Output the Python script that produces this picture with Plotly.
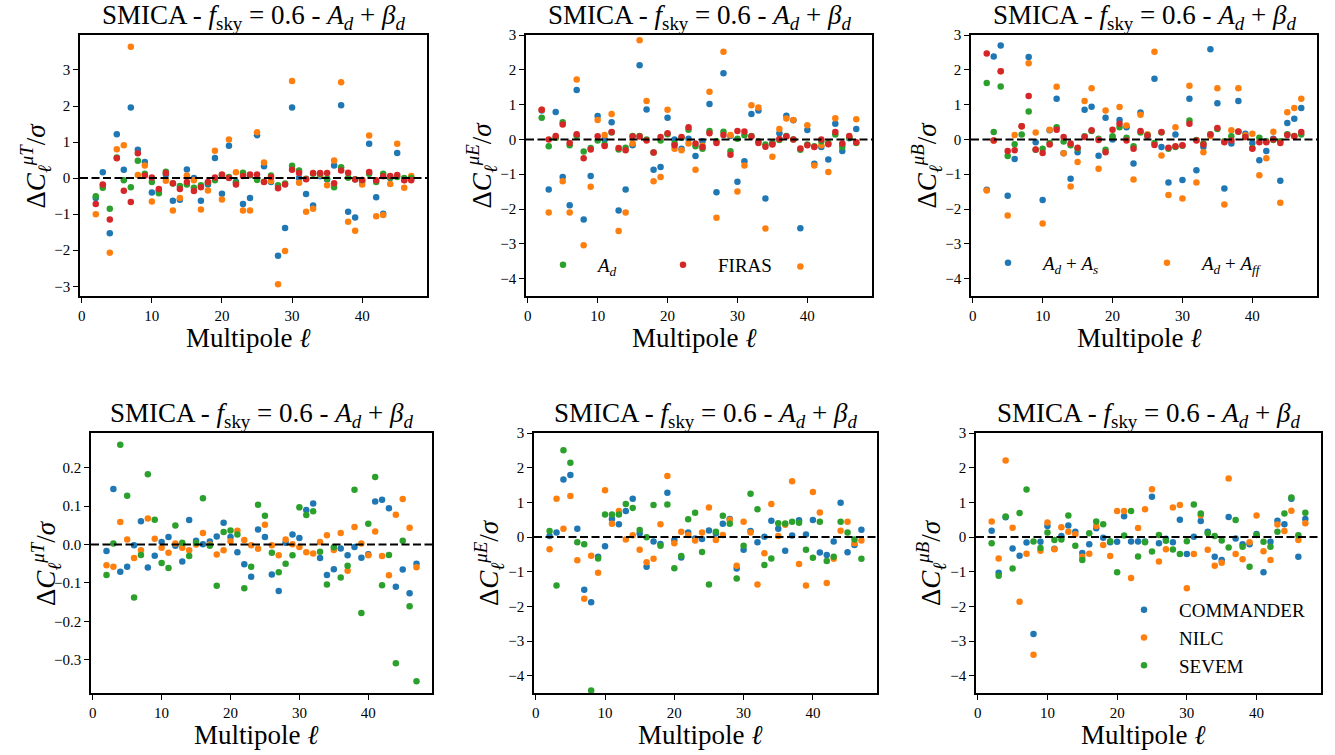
import plotly.graph_objects as go

# Multipoles
ell = list(range(2, 48))

BLUE, ORANGE, GREEN, RED = "#1f77b4", "#ff7f0e", "#2ca02c", "#d62728"

# ---- Top row: foreground models (A_d+A_s, A_d+A_ff, A_d, FIRAS) ----
muT_As = [-0.55, 0.16, -1.53, 1.22, 0.23, 1.96, 0.79, 0.45, -0.40, -0.35, 0.10, -0.63, -0.60, 0.24, 0.00, -0.63,
          -0.18, 0.56, -0.43, 0.90, -0.10, -0.72, -0.55, 1.19, 0.33, -0.11, -2.15, -1.38, 1.96, 0.00, -0.44, -0.76,
          0.05, -0.04, 0.35, 2.02, -0.93, -1.09, -0.10, 0.95, -0.53, -0.99, 0.00, 0.70, -0.05, 0.00]
muT_Aff = [-1.00, -0.20, -2.07, 0.80, 0.91, 3.64, 0.09, 0.35, -0.65, -0.38, -0.07, -0.90, -0.55, 0.07, -0.06, -0.87,
           -0.34, 0.76, -0.59, 1.07, 0.16, -0.90, -0.90, 1.27, 0.43, -0.08, -2.94, -2.02, 2.69, -0.13, -0.93, -0.85,
           0.10, -0.20, 0.49, 2.66, -1.21, -1.46, -0.18, 1.18, -1.06, -1.02, -0.16, 0.95, -0.27, 0.06]
muT_Ad = [-0.50, -0.27, -0.85, 0.57, -0.06, -0.25, 0.48, 0.12, -0.11, -0.42, 0.18, -0.15, -0.22, -0.18, -0.27, -0.20,
          -0.12, -0.06, 0.08, 0.03, -0.13, 0.15, 0.08, -0.05, -0.10, 0.07, -0.20, -0.15, 0.34, 0.21, -0.02, 0.12,
          0.12, -0.02, -0.25, 0.30, 0.01, -0.03, -0.05, 0.12, -0.11, 0.12, 0.02, 0.03, 0.00, 0.00]
muT_FIRAS = [-0.72, -0.18, -1.15, 0.55, -0.35, -0.66, 0.69, 0.07, 0.02, -0.30, 0.14, -0.14, -0.30, -0.11, -0.36, -0.25,
             -0.11, 0.02, 0.10, 0.00, -0.18, 0.06, 0.10, 0.10, -0.11, 0.03, -0.28, -0.18, 0.23, 0.14, -0.03, 0.14,
             0.14, 0.14, -0.14, 0.21, 0.15, -0.04, -0.05, 0.17, -0.06, 0.05, 0.06, 0.09, -0.06, -0.06]

muE_As = [0.83, -1.44, 0.79, -1.08, -1.89, 1.42, -2.30, -1.05, 0.67, 0.00, 0.49, -2.04, -1.44, -0.17, 2.13, 0.86,
          -0.87, -0.79, 0.62, 0.00, -0.27, 0.02, -0.48, -0.05, 1.02, -1.52, 1.90, 0.10, -1.22, -0.63, 0.73, 0.83,
          -1.70, -0.10, 0.18, 0.68, 0.55, -2.55, 0.27, -0.70, -0.22, -0.58, 0.45, -0.33, 0.03, 0.30]
muE_Aff = [0.85, -2.10, 0.05, -1.20, -2.10, 1.72, -3.04, -1.36, 0.56, 0.13, 0.73, -2.63, -2.10, -0.12, 2.85, 1.10,
           -1.20, -1.08, 0.85, -0.27, -0.31, -0.12, -0.87, -0.18, 1.37, -2.25, 2.52, 0.13, -1.50, -0.75, 0.98, 0.92,
           -2.56, -0.50, 0.30, 0.60, 0.56, -3.65, 0.41, -0.75, -0.17, -0.94, 0.61, -0.15, 0.07, 0.58]
muE_Ad = [0.62, -0.20, 0.05, 0.49, -0.17, 0.10, -0.35, -0.25, -0.03, -0.15, 0.20, -0.29, -0.24, 0.10, 0.10, 0.00,
          -0.38, -0.03, 0.15, -0.12, 0.05, 0.28, -0.20, -0.27, 0.24, -0.05, 0.22, -0.34, 0.02, 0.12, 0.10, -0.05,
          -0.15, -0.12, -0.02, 0.10, 0.00, -0.30, -0.15, -0.20, -0.05, -0.10, 0.14, -0.22, 0.05, -0.10]
muE_FIRAS = [0.85, 0.00, 0.10, 0.43, -0.10, 0.15, -0.54, -0.29, 0.09, -0.19, 0.21, -0.25, -0.31, 0.08, 0.08, -0.03,
             -0.38, 0.07, 0.18, -0.17, 0.07, 0.35, -0.12, -0.22, 0.18, -0.10, 0.13, -0.44, 0.24, 0.23, 0.08, -0.10,
             -0.21, -0.15, 0.01, 0.08, 0.00, -0.26, -0.17, -0.22, 0.00, -0.14, 0.21, -0.12, 0.10, -0.08]

muB_As = [-1.45, 2.38, 2.70, -1.62, -0.56, 0.38, 2.37, -0.08, -1.74, 0.26, 1.17, -0.40, -1.13, -0.37, 0.85, 0.94,
          -0.47, 0.62, 0.00, 0.56, 0.35, -0.69, 0.77, 0.10, 1.74, -0.22, -1.24, 0.14, -1.17, 1.17, -0.89, -0.22,
          2.59, 1.04, -1.41, -0.12, 1.10, 0.16, -0.10, -0.60, -0.33, 0.02, -1.19, 0.47, 0.59, 0.90]
muB_Aff = [-1.47, -0.03, 1.96, -2.19, 0.13, 0.38, 2.19, 0.20, -2.42, 0.28, 1.51, -0.40, -1.35, -0.65, 1.10, 1.47,
           -0.84, 0.83, 0.07, 0.93, 0.40, -1.15, 0.71, 0.15, 2.52, -0.46, -1.60, 0.35, -1.70, 1.54, -1.24, -0.37,
           0.10, 1.47, -1.87, 0.26, 1.47, 0.12, 0.16, -1.03, -0.54, 0.22, -1.82, 0.78, 0.90, 1.17]
muB_Ad = [1.62, 0.21, 1.52, -0.48, -0.14, 0.14, 0.80, -0.30, -0.27, -0.10, 0.35, -0.06, -0.17, -0.27, 0.09, 0.24,
          0.02, -0.30, 0.09, 0.35, 0.05, -0.20, 0.20, 0.12, -0.10, 0.20, -0.27, -0.22, -0.18, 0.54, -0.02, -0.12,
          0.15, 0.30, -0.05, 0.09, 0.22, 0.07, -0.25, 0.05, -0.05, -0.02, -0.05, 0.15, 0.10, 0.14]
muB_FIRAS = [2.47, -0.03, 1.96, -0.33, -0.31, 0.38, 1.25, -0.29, -0.39, -0.15, 0.28, 0.07, -0.12, -0.24, 0.07, 0.26,
             -0.02, -0.37, 0.28, 0.45, -0.03, -0.27, 0.24, 0.11, -0.16, 0.21, -0.24, -0.20, -0.17, 0.45, -0.03, -0.15,
             0.14, 0.33, -0.08, -0.03, 0.23, 0.07, -0.27, -0.08, -0.08, 0.00, -0.10, 0.13, 0.09, 0.21]

# ---- Bottom row: component-separation pipelines (COMMANDER, NILC, SEVEM) ----
pT_commander = [-0.017, 0.145, -0.071, -0.058, -0.002, 0.061, -0.060, -0.029, 0.007, 0.020, -0.003, -0.044, 0.064,
                0.010, 0.001, 0.008, 0.021, 0.057, 0.020, -0.020, -0.051, -0.084, 0.039, 0.020, -0.078, -0.121,
                0.005, 0.026, 0.017, 0.090, 0.107, -0.035, -0.079, -0.064, -0.010, -0.028, -0.006, -0.034, -0.025,
                0.112, 0.117, 0.095, -0.110, -0.065, -0.127, -0.050]
pT_nilc = [-0.054, -0.058, 0.059, 0.013, -0.035, -0.015, 0.068, 0.015, -0.008, -0.021, 0.003, -0.008, -0.015, 0.000,
           0.030, 0.000, -0.026, -0.015, 0.009, 0.036, 0.012, -0.002, -0.011, 0.052, -0.002, -0.028, 0.013, 0.001,
           -0.006, -0.020, -0.023, 0.007, 0.024, -0.014, 0.030, -0.068, 0.046, 0.003, -0.028, 0.034, -0.030, -0.080,
           0.078, 0.119, 0.044, -0.059]
pT_sevem = [-0.079, 0.003, 0.260, 0.127, -0.138, -0.027, 0.183, 0.065, -0.048, -0.061, 0.050, 0.005, -0.030, 0.005,
            0.121, -0.003, -0.107, 0.033, 0.037, 0.026, -0.114, -0.058, 0.104, 0.075, -0.021, -0.072, -0.050, -0.028,
            0.097, 0.077, 0.087, -0.019, -0.104, -0.007, -0.086, -0.055, 0.143, -0.178, 0.054, 0.176, -0.106,
            -0.027, -0.309, 0.010, -0.161, -0.356]

pE_commander = [0.03, 0.13, 1.66, 1.79, 0.24, -1.52, -1.88, -0.57, -0.27, 0.52, 0.37, 0.75, 1.10, 0.10, -0.86, -0.13,
                -0.20, 1.28, -0.09, -0.59, 0.13, -0.04, -0.06, 0.19, 0.10, 0.38, 0.52, -0.91, -0.37, 0.17, -0.15,
                0.01, 0.47, 0.24, -0.40, 0.04, 0.48, 0.07, 0.49, -0.45, -0.52, -0.13, 0.99, -0.44, -0.23, 0.21]
pE_nilc = [-0.35, 1.10, 0.24, 1.18, -0.67, -1.78, -0.54, -1.03, 1.35, 0.38, 0.75, -0.07, 0.05, -0.37, -0.73, -0.63,
           0.37, 1.76, -0.18, 0.15, 0.06, -0.10, 0.13, 0.85, -0.09, 0.06, 0.50, -0.83, 0.44, 0.13, -1.37, -0.47,
           0.95, 0.03, 0.35, 1.61, -0.78, -1.40, 1.30, 0.71, -1.33, -0.63, 0.18, 0.44, -0.18, -0.10]
pE_sevem = [0.17, -1.40, 2.50, 2.14, -0.15, -0.21, -4.43, -0.62, 0.65, 0.65, 0.65, 0.95, 0.84, 0.20, -0.01, 0.92,
            -0.25, 0.94, -0.90, -0.55, 0.51, 0.70, -0.43, -1.37, 0.15, 0.61, 0.38, -1.20, -0.25, 1.25, 0.80, -0.81,
            -0.62, 0.40, 0.39, 0.44, 0.41, -0.37, -0.60, 0.44, -0.69, -0.57, 0.44, 0.13, -0.07, -0.63]

pB_commander = [0.18, -1.03, 0.57, -0.33, -0.54, -0.16, -2.80, -0.14, 0.32, -0.34, 0.03, 0.33, 0.15, -0.46, -0.21,
                0.25, -0.02, -0.15, -0.14, 0.60, -0.13, -0.13, -0.13, 1.16, -0.18, -0.05, -0.15, 0.50, -0.49, 0.01,
                0.46, 0.15, -0.57, -0.66, 0.58, -0.04, -0.21, -0.21, 0.09, -1.02, -0.14, 0.47, 0.37, 1.10, -0.57, 0.52]
pB_nilc = [0.45, -0.62, 2.21, 0.27, -1.87, -0.48, -3.40, -0.40, 0.42, -0.35, 0.28, 0.15, 0.08, -0.57, -0.48, 0.32,
           -0.23, -0.55, 0.75, 0.75, -1.18, 0.26, 0.80, 1.38, -0.71, -0.35, 0.85, 0.92, -1.48, -0.49, 0.63, -0.37,
           -0.83, -0.74, 1.69, -0.49, -0.64, -0.15, 0.62, -0.41, -0.66, 0.36, 0.17, 0.76, -0.09, 0.40]
pB_sevem = [-0.18, -1.12, 0.59, -0.91, 0.69, 1.37, -0.13, -0.32, 0.13, -0.09, -0.07, 0.62, -0.25, -0.66, 0.11, 0.45,
            0.37, -0.12, -1.02, 0.04, 0.75, -0.56, -0.15, -0.42, 0.06, -0.11, -0.36, -0.49, -0.12, 0.94, 0.68, 0.11,
            0.03, -0.10, -0.30, 0.49, -0.28, -0.86, 0.06, -0.14, -0.28, 0.15, 0.68, 1.14, 0.05, 0.70]

# ---- Layout helpers ----
W, H = 1335, 755
SERIF = "Liberation Serif"
TITLE = "SMICA - <i>f</i><sub>sky</sub> = 0.6 - <i>A<sub>d</sub></i> + <i>β<sub>d</sub></i>"


def ylabel(comp):
    return "Δ<i>C</i><sub><i>ℓ</i></sub><sup><i>μ" + comp + "</i></sup>/<i>σ</i>"


def padded(values, frac=0.05):
    lo, hi = min(values), max(values)
    pad = frac * (hi - lo)
    return [lo - pad, hi + pad]


# pixel boxes of each panel: (left, right, top, bottom)
boxes = [
    (80, 427, 35, 296), (526, 872, 35, 296), (971, 1317, 35, 296),
    (91, 432, 433, 693), (534, 877, 433, 693), (976, 1321, 433, 693),
]

panels = [
    dict(series=[(muT_As, BLUE, "<i>A<sub>d</sub></i> + <i>A<sub>s</sub></i>", None),
                 (muT_Aff, ORANGE, "<i>A<sub>d</sub></i> + <i>A<sub>ff</sub></i>", None),
                 (muT_Ad, GREEN, "<i>A<sub>d</sub></i>", None),
                 (muT_FIRAS, RED, "FIRAS", None)],
         comp="T", yrange=None, dtick=1, fmt=None),
    dict(series=[(muE_As, BLUE, "<i>A<sub>d</sub></i> + <i>A<sub>s</sub></i>", None),
                 (muE_Aff, ORANGE, "<i>A<sub>d</sub></i> + <i>A<sub>ff</sub></i>", None),
                 (muE_Ad, GREEN, "<i>A<sub>d</sub></i>", "legend"),
                 (muE_FIRAS, RED, "FIRAS", "legend4")],
         comp="E", yrange=[-4.5, 3], dtick=1, fmt=None),
    dict(series=[(muB_As, BLUE, "<i>A<sub>d</sub></i> + <i>A<sub>s</sub></i>", "legend2"),
                 (muB_Aff, ORANGE, "<i>A<sub>d</sub></i> + <i>A<sub>ff</sub></i>", "legend2"),
                 (muB_Ad, GREEN, "<i>A<sub>d</sub></i>", None),
                 (muB_FIRAS, RED, "FIRAS", None)],
         comp="B", yrange=[-4.5, 3], dtick=1, fmt=None),
    dict(series=[(pT_commander, BLUE, "COMMANDER", None),
                 (pT_nilc, ORANGE, "NILC", None),
                 (pT_sevem, GREEN, "SEVEM", None)],
         comp="T", yrange=None, dtick=0.1, fmt=".1f"),
    dict(series=[(pE_commander, BLUE, "COMMANDER", None),
                 (pE_nilc, ORANGE, "NILC", None),
                 (pE_sevem, GREEN, "SEVEM", None)],
         comp="E", yrange=[-4.5, 3], dtick=1, fmt=None),
    dict(series=[(pB_commander, BLUE, "COMMANDER", "legend3"),
                 (pB_nilc, ORANGE, "NILC", "legend3"),
                 (pB_sevem, GREEN, "SEVEM", "legend3")],
         comp="B", yrange=[-4.5, 3], dtick=1, fmt=None),
]

fig = go.Figure()
layout = dict(
    width=W, height=H, margin=dict(l=0, r=0, t=0, b=0, autoexpand=False),
    paper_bgcolor="white", plot_bgcolor="white",
    annotations=[], shapes=[],
)

xr = padded(ell)
tick_font = dict(family=SERIF, size=15, color="black")

for i, (panel, box) in enumerate(zip(panels, boxes)):
    n = i + 1
    suffix = "" if n == 1 else str(n)
    xa, ya = "x" + suffix, "y" + suffix
    xkey, ykey = "xaxis" + suffix, "yaxis" + suffix
    left, right, top, bottom = box
    all_y = [v for s in panel["series"] for v in s[0]]
    yr = panel["yrange"] or padded(all_y)

    for values, color, name, leg in panel["series"]:
        fig.add_trace(go.Scatter(
            x=ell, y=values, mode="markers", name=name,
            marker=dict(color=color, size=6.5, line=dict(width=0)),
            xaxis=xa, yaxis=ya, showlegend=leg is not None,
            legend=leg if leg else "legend",
        ))

    axis_common = dict(showline=True, linecolor="black", linewidth=1.5, mirror=True,
                       ticks="outside", ticklen=5, tickwidth=1.4, tickcolor="black",
                       showgrid=False, zeroline=False, tickfont=tick_font)
    layout[xkey] = dict(domain=[left / W, right / W], anchor=ya, range=xr,
                        tickmode="linear", tick0=0, dtick=10, **axis_common)
    ydict = dict(domain=[1 - bottom / H, 1 - top / H], anchor=xa, range=yr,
                 tickmode="linear", tick0=0, dtick=panel["dtick"], **axis_common)
    if panel["fmt"]:
        ydict["tickformat"] = panel["fmt"]
    layout[ykey] = ydict

    # dashed zero reference line
    layout["shapes"].append(dict(type="line", xref=xa + " domain", yref=ya, x0=0, x1=1, y0=0, y1=0,
                                 line=dict(color="black", width=2, dash="8px,3.5px")))

    cx = (left + right) / 2
    ty = 17 if n <= 3 else 415
    layout["annotations"].append(dict(text=TITLE, x=cx / W, y=1 - ty / H, xref="paper", yref="paper",
                                      showarrow=False, xanchor="center", yanchor="middle",
                                      font=dict(family=SERIF, size=27, color="black")))
    lx = 338 if n <= 3 else 735
    layout["annotations"].append(dict(text="Multipole <i>ℓ</i>", x=(cx - 5) / W, y=1 - lx / H,
                                      xref="paper", yref="paper",
                                      showarrow=False, xanchor="center", yanchor="middle",
                                      font=dict(family=SERIF, size=27, color="black")))
    ycx = left - 45
    ycy = (top + bottom) / 2
    layout["annotations"].append(dict(text=ylabel(panel["comp"]), x=ycx / W, y=1 - ycy / H,
                                      xref="paper", yref="paper", showarrow=False, textangle=-90,
                                      xanchor="center", yanchor="middle",
                                      font=dict(family=SERIF, size=27, color="black")))

leg_font = dict(family=SERIF, size=19, color="black")
leg_common = dict(xanchor="left", yanchor="middle", bgcolor="rgba(0,0,0,0)", font=leg_font, itemwidth=60)
layout["legend"] = dict(orientation="h", x=528 / W, y=1 - 265 / H, **leg_common)
layout["legend4"] = dict(orientation="h", x=648 / W, y=1 - 265 / H, **leg_common)
layout["legend2"] = dict(orientation="h", x=973 / W, y=1 - 263 / H, entrywidth=84, **leg_common)
layout["legend3"] = dict(orientation="v", x=1109 / W, y=1 - 638 / H, tracegroupgap=0, **leg_common)

fig.update_layout(**layout)
fig.write_html("out.html")
